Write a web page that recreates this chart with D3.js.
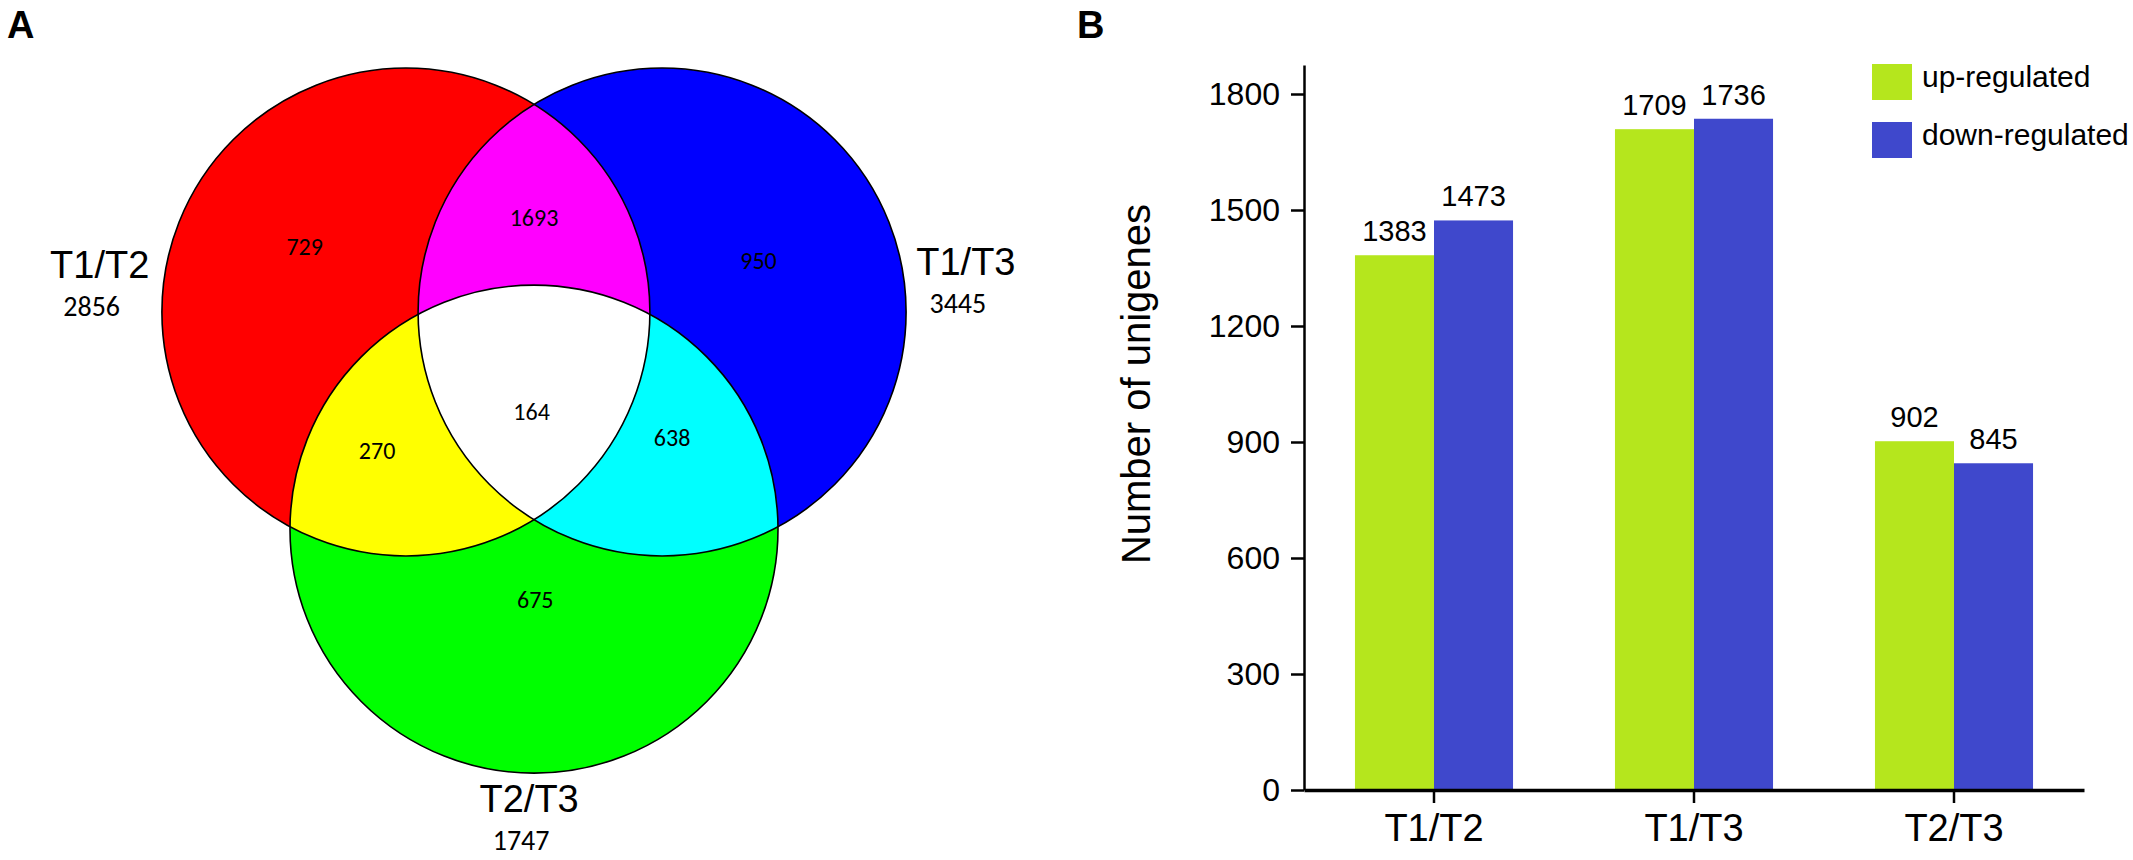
<!DOCTYPE html>
<html>
<head>
<meta charset="utf-8">
<script src="https://cdn.jsdelivr.net/npm/d3@7"></script>
<style>
  body { margin: 0; background: #fff; }
  text { font-family: "Liberation Sans", Arial, sans-serif; fill: #000; }
  .venn-num { font-family: Carlito, "Open Sans", sans-serif; }
</style>
</head>
<body>
<svg id="figure"></svg>
<script>
// ---- panel A: venn ----
const setNames = ["T1/T2", "T1/T3", "T2/T3"];
const setTotals = [2856, 3445, 1747];
const setColors = ["#ff0000", "#0000ff", "#00ff00"];
// only A, only B, only C, A&B, A&C, B&C, A&B&C
const regionKeys = ["A", "B", "C", "AB", "AC", "BC", "ABC"];
const regionCounts = [729, 950, 675, 1693, 270, 638, 164];
const pairColors = ["#ff00ff", "#ffff00", "#00ffff"];

// ---- panel B: bars ----
const comparisons = ["T1/T2", "T1/T3", "T2/T3"];
const seriesNames = ["up-regulated", "down-regulated"];
const upRegulated = [1383, 1709, 902];
const downRegulated = [1473, 1736, 845];
const yTicks = [0, 300, 600, 900, 1200, 1500, 1800];
const seriesColors = ["#b5e61d", "#3f48cc"];

const W = 2133, H = 860;

const svg = d3.select("#figure").attr("width", W).attr("height", H);

// panel letters
svg.append("text").attr("x", 7).attr("y", 38)
  .style("font-size", "38px").style("font-weight", "bold").text("A");
svg.append("text").attr("x", 1077).attr("y", 38)
  .style("font-size", "38px").style("font-weight", "bold").text("B");

// ================= Venn =================
// unit coordinates: circle radius = 1
const venn = { x: 534, y: 312, r: 244 };
const vx = d3.scaleLinear().domain([0, 1]).range([venn.x, venn.x + venn.r]);
const vy = d3.scaleLinear().domain([0, 1]).range([venn.y, venn.y + venn.r]);

const centers = [[-0.525, 0], [0.525, 0], [0, 0.89]];
const regionSpots = {
  A: [-0.94, -0.27], B: [0.92, -0.21], C: [0.005, 1.18],
  AB: [0, -0.385], AC: [-0.643, 0.566], BC: [0.566, 0.516], ABC: [-0.01, 0.41]
};
const setLabelSpots = [[-1.78, -0.14], [1.77, -0.15], [-0.02, 2.05]];

const circles = setNames.map((name, i) => ({
  name, total: setTotals[i], color: setColors[i],
  cx: vx(centers[i][0]), cy: vy(centers[i][1]), r: vx(1) - vx(0)
}));

const defs = svg.append("defs");
circles.forEach((c, i) => {
  defs.append("clipPath").attr("id", "clip" + i)
    .append("circle").attr("cx", c.cx).attr("cy", c.cy).attr("r", c.r);
});

const vennG = svg.append("g").attr("class", "venn");

// single sets
vennG.selectAll(".set")
  .data(circles)
  .enter()
  .append("circle")
  .attr("class", "set")
  .attr("cx", (d) => d.cx).attr("cy", (d) => d.cy).attr("r", (d) => d.r)
  .attr("fill", (d) => d.color);

// pairwise overlaps
const pairs = [[0, 1], [0, 2], [1, 2]];
pairs.forEach((p, i) => {
  const c = circles[p[1]];
  vennG.append("circle")
    .attr("cx", c.cx).attr("cy", c.cy).attr("r", c.r)
    .attr("fill", pairColors[i])
    .attr("clip-path", `url(#clip${p[0]})`);
});

// triple overlap
vennG.append("g").attr("clip-path", "url(#clip0)")
  .append("circle")
  .attr("cx", circles[2].cx).attr("cy", circles[2].cy).attr("r", circles[2].r)
  .attr("fill", "#ffffff")
  .attr("clip-path", "url(#clip1)");

// outlines
vennG.selectAll(".outline")
  .data(circles)
  .enter()
  .append("circle")
  .attr("class", "outline")
  .attr("cx", (d) => d.cx).attr("cy", (d) => d.cy).attr("r", (d) => d.r)
  .attr("fill", "none")
  .attr("stroke", "#000")
  .attr("stroke-width", 1.6);

// region counts
vennG.selectAll(".region")
  .data(regionKeys)
  .enter()
  .append("text")
  .attr("class", "venn-num")
  .attr("x", (d) => vx(regionSpots[d][0]))
  .attr("y", (d) => vy(regionSpots[d][1]))
  .attr("dy", "0.35em")
  .attr("text-anchor", "middle")
  .style("font-size", "24px")
  .text((d, i) => regionCounts[i]);

// set names and totals
circles.forEach((c, i) => {
  const sx = vx(setLabelSpots[i][0]), sy = vy(setLabelSpots[i][1]);
  vennG.append("text")
    .attr("x", sx).attr("y", sy)
    .attr("text-anchor", "middle")
    .style("font-size", "38px")
    .text(c.name);
  vennG.append("text")
    .attr("class", "venn-num")
    .attr("x", sx - 8).attr("y", sy + 38)
    .attr("text-anchor", "middle")
    .style("font-size", "28px")
    .text(c.total);
});

// ================= Bars =================
const x0 = d3.scaleBand()
  .domain(comparisons)
  .range([1304, 2084])
  .paddingInner(0.392)
  .paddingOuter(0.196);

const x1 = d3.scaleBand()
  .domain(seriesNames)
  .range([0, x0.bandwidth()]);

const y = d3.scaleLinear().domain([0, 1875]).range([790, 65]);

const color = d3.scaleOrdinal().domain(seriesNames).range(seriesColors);

const table = comparisons.map((c, i) => ({
  comparison: c,
  values: [
    { key: seriesNames[0], value: upRegulated[i] },
    { key: seriesNames[1], value: downRegulated[i] }
  ]
}));

const groups = svg.selectAll(".bar-group")
  .data(table)
  .enter()
  .append("g")
  .attr("class", "bar-group")
  .attr("transform", (d) => `translate(${x0(d.comparison)},0)`);

groups.selectAll("rect")
  .data((d) => d.values)
  .enter()
  .append("rect")
  .attr("x", (d) => x1(d.key))
  .attr("y", (d) => y(d.value))
  .attr("width", x1.bandwidth())
  .attr("height", (d) => y(0) - y(d.value))
  .attr("fill", (d) => color(d.key));

groups.selectAll(".val")
  .data((d) => d.values)
  .enter()
  .append("text")
  .attr("class", "val")
  .attr("x", (d) => x1(d.key) + x1.bandwidth() / 2)
  .attr("y", (d) => y(d.value) - 14)
  .attr("text-anchor", "middle")
  .style("font-size", "29px")
  .text((d) => d.value);

// y axis
const yAxis = svg.append("g")
  .attr("transform", `translate(1304,0)`)
  .call(d3.axisLeft(y).tickValues(yTicks).tickFormat(d3.format("d"))
    .tickSize(13).tickPadding(11).tickSizeOuter(0));
yAxis.attr("font-family", null).attr("font-size", null);
yAxis.select(".domain").attr("stroke-width", 2.5);
yAxis.selectAll(".tick line").attr("stroke-width", 2.5);
yAxis.selectAll(".tick text").style("font-size", "32px");

// x axis
const xAxis = svg.append("g")
  .attr("transform", `translate(0,${y(0)})`)
  .call(d3.axisBottom(x0).tickSize(13).tickPadding(11).tickSizeOuter(0));
xAxis.attr("font-family", null).attr("font-size", null);
xAxis.select(".domain").attr("stroke-width", 3.5);
xAxis.selectAll(".tick line").attr("stroke-width", 2.5);
xAxis.selectAll(".tick text").style("font-size", "38px");

// y title
svg.append("text")
  .attr("transform", `translate(1150,${(y(0) + y(1800)) / 2 - 58}) rotate(-90)`)
  .attr("text-anchor", "middle")
  .style("font-size", "40px")
  .text("Number of unigenes");

// legend
const legend = svg.selectAll(".legend")
  .data(seriesNames)
  .enter()
  .append("g")
  .attr("class", "legend")
  .attr("transform", (d, i) => `translate(1872,${64 + i * 58})`);

legend.append("rect")
  .attr("width", 40)
  .attr("height", 36)
  .attr("fill", (d) => color(d));

legend.append("text")
  .attr("x", 50)
  .attr("y", 23)
  .style("font-size", "30px")
  .text((d) => d);
</script>
</body>
</html>
